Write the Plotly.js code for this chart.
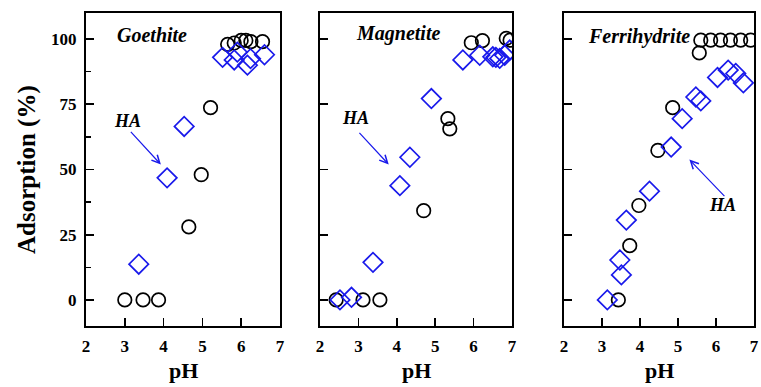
<!DOCTYPE html>
<html>
<head>
<meta charset="utf-8">
<script src="https://cdn.plot.ly/plotly-3.0.1.min.js"></script>
<style>html,body{margin:0;padding:0;background:#fff;}</style>
</head>
<body>
<div id="chart" style="width:761px;height:387px;"></div>
<script>
// Goethite
const goeCircX = [3.0, 3.47, 3.87, 4.65, 4.97, 5.21, 5.65, 5.82, 6.0, 6.12, 6.25, 6.55];
const goeCircY = [0, 0, 0, 28, 48, 73.7, 98, 98.5, 99.5, 99.5, 99, 99];
const goeDiaX = [3.36, 4.09, 4.53, 5.52, 5.82, 5.9, 6.16, 6.24, 6.6];
const goeDiaY = [13.7, 46.8, 66.5, 93, 92, 95, 90, 92.5, 94];
// Magnetite
const magCircX = [2.42, 3.12, 3.56, 4.70, 5.33, 5.38, 5.94, 6.23, 6.85, 6.95];
const magCircY = [0, 0, 0, 34.2, 69.5, 65.6, 98.6, 99.4, 100.3, 99.6];
const magDiaX = [2.52, 2.82, 3.38, 4.08, 4.34, 4.90, 5.72, 6.16, 6.50, 6.58, 6.68, 6.81, 6.94];
const magDiaY = [0, 1, 14.4, 43.8, 54.7, 77.2, 92, 93.8, 93.2, 93, 92.6, 93.8, 95.8];
// Ferrihydrite
const ferCircX = [3.43, 3.73, 3.97, 4.47, 4.86, 5.56, 5.60, 5.86, 6.12, 6.38, 6.65, 6.91];
const ferCircY = [0, 20.8, 36.2, 57.3, 73.7, 94.7, 99.6, 99.6, 99.6, 99.6, 99.6, 99.6];
const ferDiaX = [3.14, 3.51, 3.47, 3.64, 4.25, 4.82, 5.11, 5.47, 5.60, 6.04, 6.32, 6.52, 6.72];
const ferDiaY = [0, 9.6, 15.3, 30.6, 41.7, 58.6, 69.5, 77.8, 76.3, 85.3, 88.1, 86.8, 83.2];

const xTicks = [2, 3, 4, 5, 6, 7];
const yTicks = [0, 25, 50, 75, 100];
const panelNames = ['Goethite', 'Magnetite', 'Ferrihydrite'];

const FONT = 'Liberation Serif, Times New Roman, serif';
const BLUE = 'rgb(25,25,235)';

function circ(x, y, ax) {
  return {x: x, y: y, xaxis: 'x' + ax, yaxis: 'y' + ax, type: 'scatter', mode: 'markers',
    marker: {symbol: 'circle-open', size: 13.5, color: 'black', line: {width: 1.7, color: 'black'}},
    showlegend: false, hoverinfo: 'skip'};
}
function dia(x, y, ax) {
  return {x: x, y: y, xaxis: 'x' + ax, yaxis: 'y' + ax, type: 'scatter', mode: 'markers',
    marker: {symbol: 'diamond-open', size: 15, color: BLUE, line: {width: 1.7, color: BLUE}},
    showlegend: false, hoverinfo: 'skip'};
}
const axSuffix = ['', '2', '3'];
const data = [
  circ(goeCircX, goeCircY, ''), dia(goeDiaX, goeDiaY, ''),
  circ(magCircX, magCircY, '2'), dia(magDiaX, magDiaY, '2'),
  circ(ferCircX, ferCircY, '3'), dia(ferDiaX, ferDiaY, '3')
];

const xDomains = [[86/761, 280/761], [320/761, 512/761], [564/761, 754/761]];
const yDomain = [1 - 326/387, 1 - 13/387];

function xaxis(i) {
  return {domain: xDomains[i], range: [2, 7], tickvals: xTicks, ticktext: xTicks.map(String),
    ticks: 'inside', ticklen: 8, tickwidth: 1.6, tickcolor: 'black',
    showline: true, linewidth: 2, linecolor: 'black', mirror: true,
    showgrid: false, zeroline: false, ticklabelstandoff: 4,
    tickfont: {family: FONT, size: 17, color: 'black', weight: 'bold'},
    anchor: 'y' + axSuffix[i], fixedrange: true};
}
function yaxis(i) {
  const a = {domain: yDomain, range: [-10, 110], tickvals: yTicks, ticktext: yTicks.map(String),
    ticks: 'inside', ticklen: 8, tickwidth: 1.6, tickcolor: 'black',
    showline: true, linewidth: 2, linecolor: 'black', mirror: true,
    showgrid: false, zeroline: false, showticklabels: i === 0, ticklabelstandoff: 4,
    tickfont: {family: FONT, size: 17, color: 'black', weight: 'bold'},
    anchor: 'x' + axSuffix[i], fixedrange: true};
  if (i === 0) {
    a.minor = {ticks: 'inside', ticklen: 5, tickwidth: 1.6, tickcolor: 'black', tickvals: [12.5, 37.5, 62.5, 87.5], showgrid: false};
  }
  return a;
}

const annotations = [];
const namePos = [[3.70, 101.5], [4.03, 102.3], [3.97, 101]];
const nameFont = {family: FONT, size: 20, color: 'black'};
panelNames.forEach((n, i) => {
  const s = axSuffix[i];
  annotations.push({xref: 'x' + s, yref: 'y' + s, x: namePos[i][0], y: namePos[i][1], text: '<b><i>' + n + '</i></b>',
    showarrow: false, font: nameFont, xanchor: 'center', yanchor: 'middle'});
  annotations.push({xref: 'paper', yref: 'paper', x: (xDomains[i][0] + xDomains[i][1]) / 2, y: 1 - 370/387,
    text: '<b>pH</b>', showarrow: false, font: {family: FONT, size: 22, color: 'black'},
    xanchor: 'center', yanchor: 'middle'});
});
// HA labels
const haPos = [[3.08, 68.5], [2.93, 69.6], [6.17, 36.5]];
haPos.forEach((p, i) => {
  const s = axSuffix[i];
  annotations.push({xref: 'x' + s, yref: 'y' + s, x: p[0], y: p[1], text: '<b><i>HA</i></b>',
    showarrow: false, font: {family: FONT, size: 18, color: 'black'}, xanchor: 'center', yanchor: 'middle'});
});
// arrows
const arrows = [[3.12, 65, 3.93, 51.9], [2.99, 64.6, 3.79, 51.9], [6.26, 39.2, 5.30, 53.8]];
arrows.forEach((a, i) => {
  const s = axSuffix[i];
  annotations.push({xref: 'x' + s, yref: 'y' + s, axref: 'x' + s, ayref: 'y' + s,
    x: a[2], y: a[3], ax: a[0], ay: a[1], text: '', showarrow: true,
    arrowhead: 5, arrowsize: 1.3, arrowwidth: 1.2, arrowcolor: BLUE});
});
// y title
annotations.push({xref: 'paper', yref: 'paper', x: 27/761, y: 1 - 170/387, text: '<b>Adsorption (%)</b>',
  textangle: -90, showarrow: false, font: {family: FONT, size: 25, color: 'black'},
  xanchor: 'center', yanchor: 'middle'});

const layout = {
  width: 761, height: 387,
  margin: {l: 0, r: 0, t: 0, b: 0},
  paper_bgcolor: 'white', plot_bgcolor: 'white',
  xaxis: xaxis(0), xaxis2: xaxis(1), xaxis3: xaxis(2),
  yaxis: yaxis(0), yaxis2: yaxis(1), yaxis3: yaxis(2),
  annotations: annotations
};
Plotly.newPlot('chart', data, layout, {displayModeBar: false, staticPlot: true});
</script>
</body>
</html>
